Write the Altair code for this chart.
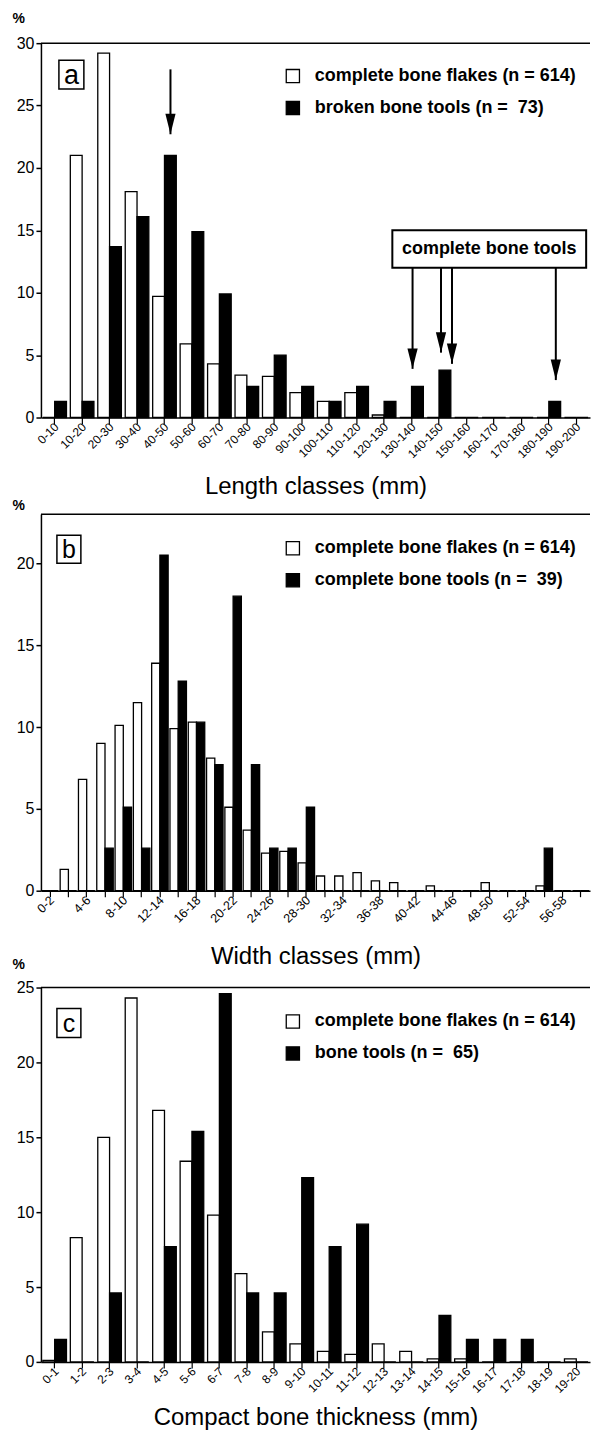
import altair as alt
import pandas as pd

FONT = "Liberation Sans"
W = 550

# ---------------- data ----------------
cats_a = ["0-10", "10-20", "20-30", "30-40", "40-50", "50-60", "60-70", "70-80", "80-90", "90-100",
          "100-110", "110-120", "120-130", "130-140", "140-150", "150-160", "160-170", "170-180",
          "180-190", "190-200"]
flakes_a = [0, 21.0, 29.2, 18.1, 9.7, 5.9, 4.3, 3.4, 3.3, 2.0, 1.3, 2.0, 0.2, 0, 0, 0, 0, 0, 0, 0]
tools_a = [1.3, 1.3, 13.7, 16.1, 21.0, 14.9, 9.9, 2.5, 5.0, 2.5, 1.3, 2.5, 1.3, 2.5, 3.8, 0, 0, 0, 1.3, 0]
series_a = ["complete bone flakes (n = 614)", "broken bone tools (n =\u00a0 73)"]

cats_b = ["0-2", "2-4", "4-6", "6-8", "8-10", "10-12", "12-14", "14-16", "16-18", "18-20",
          "20-22", "22-24", "24-26", "26-28", "28-30", "30-32", "32-34", "34-36", "36-38", "38-40",
          "40-42", "42-44", "44-46", "46-48", "48-50", "50-52", "52-54", "54-56", "56-58", "58-60"]
flakes_b = [0, 1.3, 6.8, 9.0, 10.1, 11.5, 13.9, 9.9, 10.3, 8.1, 5.1, 3.7, 2.3, 2.4, 1.7,
            0.9, 0.9, 1.1, 0.6, 0.5, 0, 0.3, 0, 0, 0.5, 0, 0, 0.3, 0, 0]
tools_b = [0, 0, 0, 2.6, 5.1, 2.6, 20.5, 12.8, 10.3, 7.7, 18.0, 7.7, 2.6, 2.6, 5.1,
           0, 0, 0, 0, 0, 0, 0, 0, 0, 0, 0, 0, 2.6, 0, 0]
series_b = ["complete bone flakes (n = 614)", "complete bone tools (n =\u00a0 39)"]
labels_b = cats_b[::2]

cats_c = ["0-1", "1-2", "2-3", "3-4", "4-5", "5-6", "6-7", "7-8", "8-9", "9-10", "10-11", "11-12",
          "12-13", "13-14", "14-15", "15-16", "16-17", "17-18", "18-19", "19-20"]
flakes_c = [0.1, 8.3, 15.0, 24.3, 16.8, 13.4, 9.8, 5.9, 2.0, 1.2, 0.7, 0.5, 1.2, 0.7, 0.2, 0.2, 0, 0, 0, 0.2]
tools_c = [1.5, 0, 4.6, 0, 7.7, 15.4, 24.6, 4.6, 4.6, 12.3, 7.7, 9.2, 0, 0, 3.1, 1.5, 1.5, 1.5, 0, 0]
series_c = ["complete bone flakes (n = 614)", "bone tools (n =\u00a0 65)"]

# annotation arrows in panel a: class, top value, tip value, pixel nudge
arrow_cls = ["40-50", "130-140", "140-150", "140-150", "180-190"]
arrow_top = [27.9, 12.0, 12.0, 12.0, 12.0]
arrow_tip = [22.7, 3.9, 5.2, 4.3, 3.0]
arrow_dx = [6, 1, 2, 13, 7]
box_text = "complete bone tools"
box_lo, box_hi = 12.0, 15.0


def panel(cats, s1, v1, s2, v2, ymax, yticks, height, letter, letter_fs, lbox, xtitle,
          pct_y, title_y, legend_y, label_subset=None, pad_inner=0.14, label_fs=12, extra=None):
    rows = [{"cls": c, "series": s1, "pct": v} for c, v in zip(cats, v1)]
    rows += [{"cls": c, "series": s2, "pct": v} for c, v in zip(cats, v2)]
    df = pd.DataFrame(rows)

    xscale = alt.Scale(domain=cats, paddingInner=pad_inner, paddingOuter=pad_inner / 2)
    yscale = alt.Scale(domain=[0, ymax], nice=False, zero=True)

    xkw = dict(title=xtitle, titleFont=FONT, titleFontSize=24, titleFontWeight="normal",
               titleColor="black", titleBaseline="alphabetic", titleY=title_y,
               labelAngle=-45, labelAlign="right", labelBaseline="middle", labelFont=FONT,
               labelFontSize=label_fs, labelColor="black", labelPadding=1, labelOverlap=False,
               labelOffset=2,
               tickSize=6, tickColor="black", tickWidth=1.2, domainColor="black", domainWidth=1.5,
               grid=False)
    if label_subset is not None:
        arr = ",".join("'%s'" % s for s in label_subset)
        xkw["labelExpr"] = "indexof([%s], datum.value) >= 0 ? datum.label : ''" % arr
    xaxis = alt.Axis(**xkw)
    yaxis = alt.Axis(title="%", titleAngle=0, titleAlign="left", titleBaseline="top",
                     titleX=-29, titleY=pct_y, titleFont=FONT, titleFontSize=14,
                     titleFontWeight="bold", titleColor="black", values=yticks,
                     labelFont=FONT, labelFontSize=16, labelColor="black", labelPadding=2,
                     tickSize=5, tickColor="black", tickWidth=1.5, domainColor="black",
                     domainWidth=1.5, grid=False)

    color = alt.Color("series:N", scale=alt.Scale(domain=[s1, s2], range=["white", "black"]),
                      legend=alt.Legend(title=None, orient="none", legendX=W * 246 / 556,
                                        legendY=legend_y, padding=0, symbolType="square",
                                        symbolSize=175, symbolStrokeColor="black",
                                        symbolStrokeWidth=1.3, labelFont=FONT, labelFontSize=18,
                                        labelFontWeight="bold", labelColor="black",
                                        labelLimit=500, labelOffset=13, rowPadding=12))

    bars = alt.Chart(df).mark_bar(stroke="black", strokeWidth=1.3).encode(
        x=alt.X("cls:N", scale=xscale, axis=xaxis),
        xOffset=alt.XOffset("series:N", sort=[s1, s2]),
        y=alt.Y("pct:Q", scale=yscale, axis=yaxis),
        color=color,
    )

    one = pd.DataFrame({"k": [0]})
    top_line = alt.Chart(one).mark_rule(color="black", strokeWidth=1.5).encode(
        x=alt.value(0), x2=alt.value(W), y=alt.value(0))
    lb = alt.Chart(one).mark_rect(fill="white", stroke="black", strokeWidth=1.5).encode(
        x=alt.value(lbox[0]), x2=alt.value(lbox[1]), y=alt.value(lbox[2]), y2=alt.value(lbox[3]))
    lt = alt.Chart(one).mark_text(text=letter, font=FONT, fontSize=letter_fs, color="black",
                                  align="center", baseline="middle").encode(
        x=alt.value((lbox[0] + lbox[1]) / 2), y=alt.value((lbox[2] + lbox[3]) / 2 + 1))

    layers = [bars, top_line, lb, lt]
    if extra is not None:
        layers += extra(xscale, xaxis, yscale, yaxis)
    return alt.layer(*layers).properties(width=W, height=height)


def arrows_a(xscale, xaxis, yscale, yaxis):
    out = []
    for c, t0, t1, dx in zip(arrow_cls, arrow_top, arrow_tip, arrow_dx):
        d = pd.DataFrame({"cls": [c], "top": [t0], "tip": [t1]})
        base = alt.Chart(d)
        out.append(base.mark_rule(color="black", strokeWidth=2, xOffset=dx).encode(
            x=alt.X("cls:N", scale=xscale, axis=xaxis),
            y=alt.Y("top:Q", scale=yscale, axis=yaxis), y2="tip:Q"))
        out.append(base.mark_point(shape="M-0.5,-2L0.5,-2L0,0Z", filled=True, fill="black",
                                   strokeWidth=0, opacity=1, size=420, xOffset=dx).encode(
            x=alt.X("cls:N", scale=xscale, axis=xaxis),
            y=alt.Y("tip:Q", scale=yscale, axis=yaxis)))
    bd = pd.DataFrame({"lo": [box_lo], "hi": [box_hi], "mid": [(box_lo + box_hi) / 2]})
    out.append(alt.Chart(bd).mark_rect(fill="white", stroke="black", strokeWidth=2).encode(
        x=alt.value(W * 0.640), x2=alt.value(W * 0.993),
        y=alt.Y("hi:Q", scale=yscale, axis=yaxis), y2="lo:Q"))
    out.append(alt.Chart(bd).mark_text(text=box_text, font=FONT, fontSize=18, fontWeight="bold",
                                       color="black", align="center", baseline="middle").encode(
        x=alt.value(W * 0.8165), y=alt.Y("mid:Q", scale=yscale, axis=yaxis)))
    return out


pa = panel(cats_a, series_a[0], flakes_a, series_a[1], tools_a, 30, [0, 5, 10, 15, 20, 25, 30], 375,
           "a", 27, (18, 43, 17, 46), "Length classes (mm)", -32, 76, 24, extra=arrows_a)
pb = panel(cats_b, series_b[0], flakes_b, series_b[1], tools_b, 23, [0, 5, 10, 15, 20], 377,
           "b", 25, (16, 40, 21, 49), "Width classes (mm)", -16, 73, 25, label_subset=labels_b,
           pad_inner=0.1, label_fs=12.5)
pc = panel(cats_c, series_c[0], flakes_c, series_c[1], tools_c, 25, [0, 5, 10, 15, 20, 25], 375,
           "c", 25, (16, 40, 21, 50), "Compact bone thickness (mm)", -30, 63, 25, label_fs=12)

chart = alt.vconcat(pa, pb, pc, spacing=97, bounds="flush").resolve_scale(
    color="independent", x="independent", y="independent", xOffset="independent"
).resolve_legend(color="independent").properties(
    padding={"left": 4, "top": 2, "right": 0, "bottom": 0}
).configure_view(stroke=None)

chart.save("out.html", embed_options={"renderer": "svg", "actions": False})
